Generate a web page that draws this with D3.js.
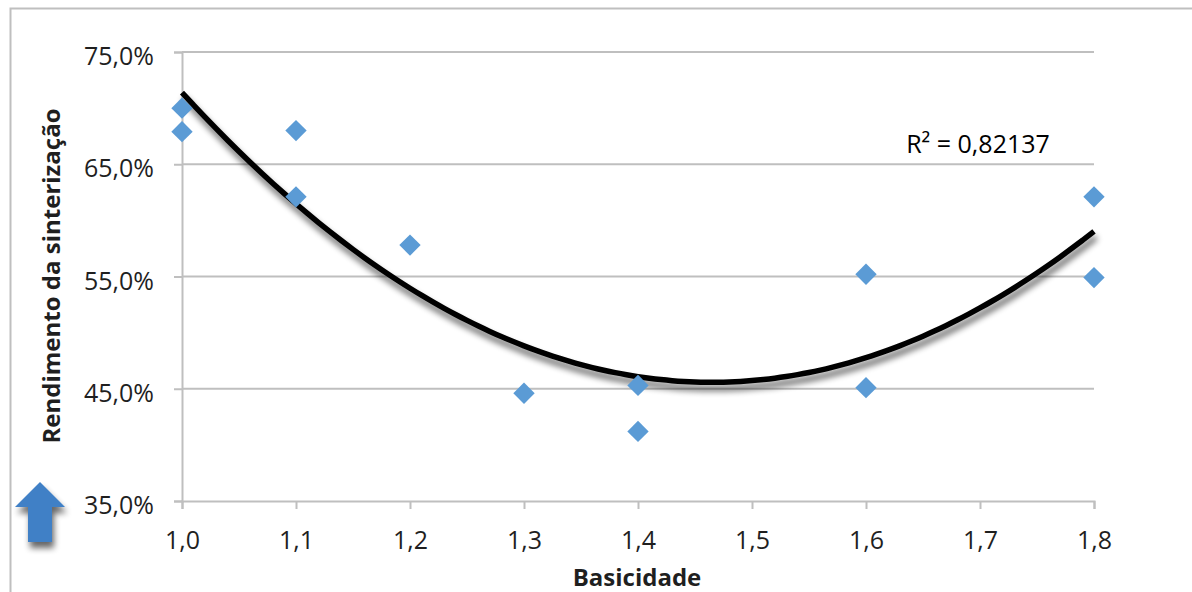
<!DOCTYPE html>
<head>
    <meta charset="utf-8">
    <script src="https://d3js.org/d3.v7.min.js"></script>
</head>
<style>
    body { margin: 0; background: #fff; }
    text { font-family: "Open Sans", "Noto Sans", sans-serif; }
    .axis path, .axis line { stroke: #bfbfbf; stroke-width: 2; }
    .axis text { fill: #1f1f1f; font-size: 25px; }
</style>
<body>
    <div id="chart"></div>
</body>

<script>
    // data
    const basicidade = [1.0, 1.0, 1.1, 1.1, 1.2, 1.3, 1.4, 1.4, 1.6, 1.6, 1.8, 1.8];
    const rendimento = [0.700, 0.679, 0.680, 0.621, 0.578, 0.446, 0.453, 0.412, 0.552, 0.451, 0.621, 0.549];
    const xTicks = [1.0, 1.1, 1.2, 1.3, 1.4, 1.5, 1.6, 1.7, 1.8];
    const yTicks = [0.35, 0.45, 0.55, 0.65, 0.75];
    const r2Label = "R² = 0,82137";

    const W = 1192, H = 592;
    const svg = d3.select("#chart").append("svg")
        .attr("width", W).attr("height", H);

    const defs = svg.append("defs");
    const f = defs.append("filter").attr("id", "shadow")
        .attr("x", "-10%").attr("y", "-10%").attr("width", "130%").attr("height", "150%");
    f.append("feGaussianBlur").attr("in", "SourceAlpha").attr("stdDeviation", 3).attr("result", "b");
    f.append("feOffset").attr("in", "b").attr("dx", 2).attr("dy", 6).attr("result", "o");
    f.append("feComponentTransfer").attr("in", "o").attr("result", "s")
        .append("feFuncA").attr("type", "linear").attr("slope", 0.6);
    const fm = f.append("feMerge");
    fm.append("feMergeNode").attr("in", "s");
    fm.append("feMergeNode").attr("in", "SourceGraphic");

    // chart border
    svg.append("rect")
        .attr("x", 10.5).attr("y", 8.5).attr("width", 1300).attr("height", 700)
        .attr("fill", "none").attr("stroke", "#bfbfbf").attr("stroke-width", 2);

    const x = d3.scaleLinear().domain([1.0, 1.8]).range([182, 1094]);
    const y = d3.scaleLinear().domain([0.35, 0.75]).range([501, 52]);

    const pct = v => d3.format(".1f")(v * 100).replace(".", ",") + "%";
    const dec = v => d3.format(".1f")(v).replace(".", ",");

    // horizontal gridlines
    svg.append("g")
        .selectAll("line")
        .data(yTicks.slice(1))
        .join("line")
        .attr("x1", x(1.0)).attr("x2", x(1.8))
        .attr("y1", d => y(d)).attr("y2", d => y(d))
        .attr("stroke", "#bfbfbf").attr("stroke-width", 2);

    // y axis
    const yAxis = svg.append("g")
        .attr("class", "axis")
        .attr("transform", `translate(${x(1.0)},0)`)
        .call(d3.axisLeft(y).tickValues(yTicks).tickFormat(pct).tickSize(8).tickPadding(20));
    yAxis.selectAll("text").attr("dy", "0.5em");

    // x axis
    const xAxis = svg.append("g")
        .attr("class", "axis")
        .attr("transform", `translate(0,${y(0.35)})`)
        .call(d3.axisBottom(x).tickValues(xTicks).tickFormat(dec).tickSize(8).tickPadding(22));

    // polynomial trendline (order 2, least squares)
    function quadFit(xs, ys) {
        const n = xs.length;
        let s = [0, 0, 0, 0, 0], t = [0, 0, 0];
        for (let i = 0; i < n; i++) {
            for (let k = 0; k < 5; k++) s[k] += Math.pow(xs[i], k);
            for (let k = 0; k < 3; k++) t[k] += ys[i] * Math.pow(xs[i], k);
        }
        const M = [[s[0], s[1], s[2], t[0]], [s[1], s[2], s[3], t[1]], [s[2], s[3], s[4], t[2]]];
        for (let i = 0; i < 3; i++) {
            for (let j = i + 1; j < 3; j++) {
                const r = M[j][i] / M[i][i];
                for (let k = i; k < 4; k++) M[j][k] -= r * M[i][k];
            }
        }
        const c = [0, 0, 0];
        for (let i = 2; i >= 0; i--) {
            let v = M[i][3];
            for (let k = i + 1; k < 3; k++) v -= M[i][k] * c[k];
            c[i] = v / M[i][i];
        }
        return c;
    }
    const c = quadFit(basicidade, rendimento);
    const curve = d3.range(1.0, 1.8001, 0.01).map(v => [v, c[0] + c[1] * v + c[2] * v * v]);

    svg.append("path")
        .datum(curve)
        .attr("fill", "none")
        .attr("stroke", "#000")
        .attr("stroke-width", 5.5)
        .attr("filter", "url(#shadow)")
        .attr("d", d3.line().x(d => x(d[0])).y(d => y(d[1])).curve(d3.curveBasis));

    // points
    svg.append("g")
        .selectAll("path")
        .data(basicidade.map((b, i) => [b, rendimento[i]]))
        .join("path")
        .attr("transform", d => `translate(${x(d[0])},${y(d[1])})`)
        .attr("d", d3.symbol().type(d3.symbolDiamond2).size(290))
        .attr("fill", "#5b9bd5");

    // R² label
    svg.append("text")
        .attr("x", 978).attr("y", 153)
        .attr("text-anchor", "middle")
        .attr("font-size", 25)
        .attr("fill", "#000")
        .text(r2Label);

    // axis titles
    svg.append("text")
        .attr("x", 637).attr("y", 586)
        .attr("text-anchor", "middle")
        .attr("font-size", 24).attr("font-weight", "bold")
        .attr("fill", "#1f1f1f")
        .text("Basicidade");

    svg.append("text")
        .attr("transform", "translate(60,276) rotate(-90)")
        .attr("text-anchor", "middle")
        .attr("font-size", 24).attr("font-weight", "bold")
        .attr("fill", "#1f1f1f")
        .text("Rendimento da sinterização");

    // blue up arrow (decoration)
    svg.append("path")
        .attr("d", "M40,482 L65,507 L52,507 L52,542 L28,542 L28,507 L15,507 Z")
        .attr("fill", "#3f80c6")
        .attr("filter", "url(#shadow)");
</script>
